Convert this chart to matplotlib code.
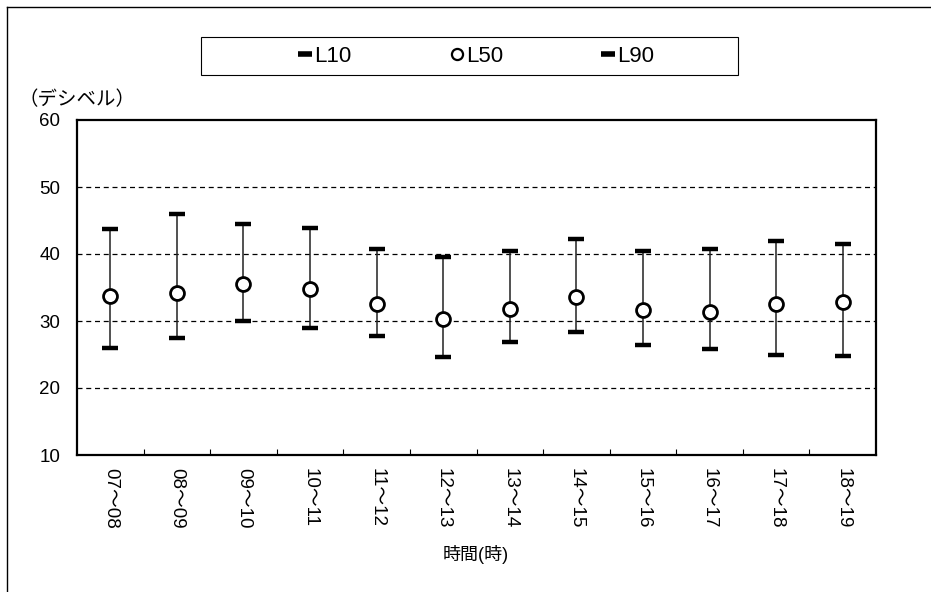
import matplotlib
matplotlib.use("Agg")
import matplotlib.pyplot as plt
from matplotlib.lines import Line2D
from matplotlib.patches import Rectangle

plt.rcParams['font.family'] = ['Liberation Sans', 'Noto Sans CJK JP', 'DejaVu Sans']

# hourly noise levels (dB)
hours = ["07～08", "08～09", "09～10", "10～11", "11～12", "12～13",
         "13～14", "14～15", "15～16", "16～17", "17～18", "18～19"]
l10 = [43.8, 45.9, 44.5, 43.9, 40.7, 39.6, 40.5, 42.3, 40.5, 40.7, 41.9, 41.5]
l50 = [33.8, 34.2, 35.5, 34.8, 32.6, 30.3, 31.8, 33.6, 31.6, 31.4, 32.6, 32.8]
l90 = [26.0, 27.5, 30.0, 29.0, 27.8, 24.6, 26.8, 28.4, 26.4, 25.8, 25.0, 24.8]

W, H = 931, 592
fig = plt.figure(figsize=(W / 100, H / 100), dpi=100)
ax = fig.add_axes([77 / W, 1 - 455 / H, 799 / W, 335 / H])

x = list(range(len(hours)))

for y in (20, 30, 40, 50):
    ax.axhline(y, color='black', lw=0.9, linestyle=(0, (4, 3)), zorder=1)

ax.vlines(x, l90, l10, color='#222222', lw=1.1, zorder=2)
ax.plot(x, l10, linestyle='none', marker='_', markersize=11, mew=3.2,
        color='black', zorder=3)
ax.plot(x, l90, linestyle='none', marker='_', markersize=11, mew=3.2,
        color='black', zorder=3)
ax.plot(x, l50, linestyle='none', marker='o', markersize=10, mew=2.0,
        mfc='white', mec='black', zorder=4)

ax.set_xlim(-0.5, len(hours) - 0.5)
ax.set_ylim(10, 60)
ax.set_yticks([10, 20, 30, 40, 50, 60])
ax.tick_params(axis='y', length=0, pad=12, labelsize=13.5)
ax.set_xticks(x)
ax.set_xticklabels(hours, rotation=-90, fontsize=13.5)
ax.tick_params(axis='x', which='major', length=0, pad=9)
ax.set_xticks([i + 0.5 for i in x[:-1]], minor=True)
ax.tick_params(axis='x', which='minor', direction='in', length=4, width=0.8)
for s in ax.spines.values():
    s.set_linewidth(1.6)

fig.text(476 / W, 1 - 555 / H, "時間(時)", ha='center', va='center', fontsize=13)
fig.text(18 / W, 1 - 100 / H, "（デシベル）", ha='left', va='center', fontsize=14)

# legend with a separate frame box
handles = [
    Line2D([], [], linestyle='none', marker='_', markersize=10, mew=4, color='black'),
    Line2D([], [], linestyle='none', marker='o', markersize=8, mew=1.6,
           mfc='white', mec='black'),
    Line2D([], [], linestyle='none', marker='_', markersize=10, mew=4, color='black'),
]
fig.legend(handles, ["L10", "L50", "L90"], ncol=3, loc='center',
           bbox_to_anchor=(477 / W, 1 - 56 / H), frameon=False, fontsize=16,
           handlelength=0.5, handletextpad=0.15, columnspacing=4.5)
fig.patches.append(Rectangle((201 / W, 1 - 75 / H), 537 / W, 38 / H,
                             transform=fig.transFigure, fill=False,
                             edgecolor='black', lw=0.8))

# outer frame (left and top edges)
fig.add_artist(Line2D([7 / W, 7 / W], [0, 1 - 7 / H], transform=fig.transFigure,
                      color='black', lw=1.0))
fig.add_artist(Line2D([7 / W, 1], [1 - 7 / H, 1 - 7 / H], transform=fig.transFigure,
                      color='black', lw=1.0))

fig.savefig("out.png", dpi=100)
